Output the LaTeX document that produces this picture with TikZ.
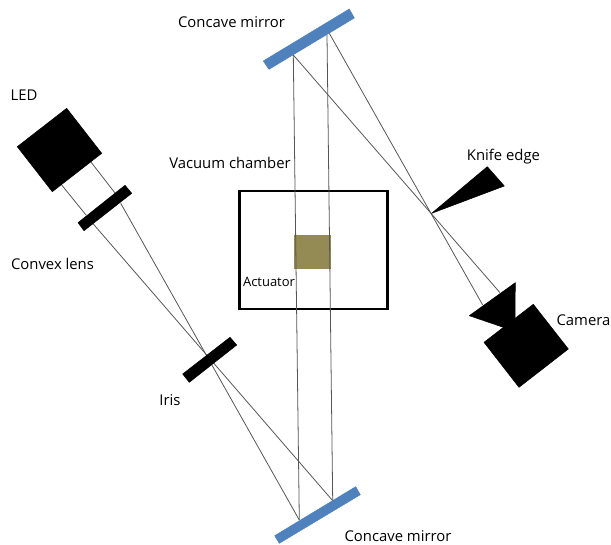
\documentclass[tikz,border=0pt]{standalone}
\usepackage{fontspec}
\setmainfont{Open Sans}
\definecolor{mirrorblue}{HTML}{4F81BD}
\definecolor{actuatorolive}{HTML}{948A54}
\definecolor{raygray}{HTML}{555555}
\begin{document}
\begin{tikzpicture}[x=0.02cm,y=-0.02cm,
  ray/.style={draw=raygray,line width=0.45pt},
  solid part/.style={fill=black,draw=black,line width=0.3pt,line join=round},
  mirror/.style={fill=mirrorblue,draw=mirrorblue,line width=0.3pt},
  label/.style={font=\fontsize{8.45}{10}\selectfont,inner sep=0pt}]
\useasboundingbox (0,0) rectangle (611,544);

\coordinate (ledTop) at (90.7,161.7);
\coordinate (ledBot) at (61.7,185);
\coordinate (lensTopIn) at (115,193);
\coordinate (lensBotIn) at (86,215);
\coordinate (lensTopOut) at (120.7,203.3);
\coordinate (lensBotOut) at (93.3,224);
\coordinate (lowerA) at (299.3,520);
\coordinate (lowerB) at (332.7,500.7);
\coordinate (upperA) at (293.3,55);
\coordinate (upperB) at (327,35);
\coordinate (upperC) at (329.3,33.3);
\coordinate (cameraA) at (500,292.7);
\coordinate (cameraB) at (482.7,305);

\draw[ray] (ledTop) -- (lensTopIn);
\draw[ray] (ledBot) -- (lensBotIn);
\draw[ray] (lensTopOut) -- (lowerA);
\draw[ray] (lensBotOut) -- (lowerB);
\draw[ray] (upperA) -- (cameraA);
\draw[ray] (upperC) -- (cameraB);

\path[solid part] (66.7,108.3) -- (101.7,153.3) -- (52.3,191.7) -- (17.3,146.7) -- cycle;
\path[solid part] (125,185.3) -- (131.7,193.3) -- (84,230.7) -- (78,222.7) -- cycle;
\path[solid part] (230,337.3) -- (236.7,345) -- (189.3,382.3) -- (182.7,374) -- cycle;
\path[solid part] (487.3,166.7) -- (504.3,186) -- (431.7,213.3) -- cycle;
\path[solid part] (533.3,304.3) -- (568.3,349) -- (519,387.3) -- (484,342.3) -- cycle;
\path[solid part] (515.3,282.7) -- (515,320) -- (503.3,327.3) -- (469.3,315.7) -- cycle;

\path[mirror] (349.3,9) -- (354.3,18) -- (269,69.3) -- (263.3,61) -- cycle;
\path[mirror] (355.7,486.7) -- (360.3,494.7) -- (279.3,543.3) -- (274.7,535.7) -- cycle;

\draw[line width=1.4pt] (239.3,191) rectangle (387.3,309);
\fill[actuatorolive] (294.3,235.3) rectangle (331.3,268.7);
\draw[ray] (lowerA) -- (upperA);
\draw[ray] (lowerB) -- (upperB);

\node[label] (ledLabel) at (24,95) {LED};
\node[label] (lensLabel) at (52.5,264) {Convex lens};
\node[label] (irisLabel) at (170,400.5) {Iris};
\node[label] (chamberLabel) at (230,162.5) {Vacuum chamber};
\node[label,font=\fontsize{7.4}{9}\selectfont] (actuatorLabel) at (269,281.5) {Actuator};
\node[label] (knifeLabel) at (503.5,157) {Knife edge};
\node[label] (cameraLabel) at (583.5,320) {Camera};
\node[label] (topLabel) at (231.5,22.5) {Concave mirror};
\node[label] (bottomLabel) at (398,536.5) {Concave mirror};
\end{tikzpicture}
\end{document}
